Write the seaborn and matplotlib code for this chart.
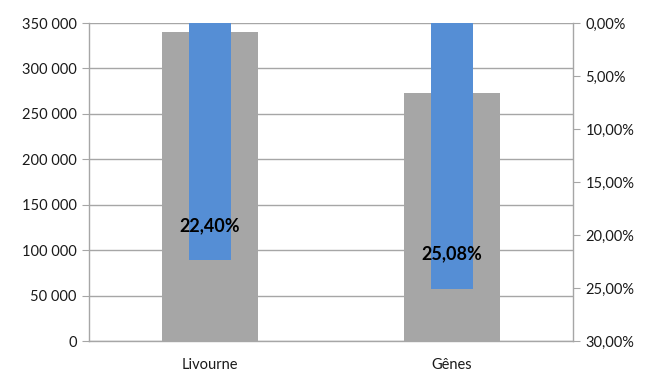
import pandas as pd
import seaborn as sns
from matplotlib import pyplot as plt
from matplotlib.ticker import FuncFormatter, FixedLocator

ports = ['Livourne', 'Gênes']
volumes = [340000, 273000]
shares = [0.2240, 0.2508]
share_labels = ['22,40%', '25,08%']

sns.set_style('white')
plt.rcParams['font.family'] = ['Lato', 'DejaVu Sans']

grid_col = '#a6a6a6'
txt_col = '#1a1a1a'

df = pd.DataFrame({'port': ports, 'volume': volumes, 'share': shares})

fig = plt.figure(figsize=(6.47, 3.74), dpi=100)
ax = fig.add_axes([0.1376, 0.0882, 0.7480, 0.8503])

sns.barplot(data=df, x='port', y='volume', color='#a6a6a6', saturation=1,
            width=0.4, linewidth=0, ax=ax, zorder=2)
ax.set_ylim(0, 350000)
ax.set_yticks(range(0, 350001, 50000))
ax.yaxis.set_major_formatter(FuncFormatter(lambda v, p: f'{int(v):,}'.replace(',', ' ')))
ax.grid(axis='y', color=grid_col, linewidth=1, zorder=0)
ax.set_axisbelow(True)
ax.set_xlim(-0.5, 1.5)
ax.xaxis.set_minor_locator(FixedLocator([-0.5, 0.5, 1.5]))
ax.tick_params(axis='x', which='major', length=0, pad=12, labelsize=10.5, colors=txt_col)
ax.tick_params(axis='x', which='minor', length=5, color=grid_col)
ax.tick_params(axis='y', length=5, color=grid_col, labelsize=10.5, labelcolor=txt_col, pad=4)
ax.set_xlabel('')
ax.set_ylabel('')

ax2 = ax.twinx()
sns.barplot(data=df, x='port', y='share', color='#558ed5', saturation=1,
            width=0.17, linewidth=0, ax=ax2, zorder=3)
ax2.set_ylim(0.30, 0)
ax2.set_yticks([i * 0.05 for i in range(7)])
ax2.yaxis.set_major_formatter(FuncFormatter(lambda v, p: f'{v * 100:.2f}%'.replace('.', ',')))
ax2.tick_params(axis='y', length=5, color=grid_col, labelsize=10.5, labelcolor=txt_col, pad=4)
ax2.set_xlim(-0.5, 1.5)
ax2.set_ylabel('')
ax2.set_xlabel('')

for bar, lab in zip(ax2.patches, share_labels):
    ax2.annotate(lab, (bar.get_x() + bar.get_width() / 2, bar.get_height()),
                 xytext=(0, 25), textcoords='offset points', ha='center', va='center',
                 fontsize=13, fontweight='bold', color='#000000')

for a in (ax, ax2):
    a.spines['top'].set_visible(False)
    for s in ('left', 'right', 'bottom'):
        a.spines[s].set_color(grid_col)
        a.spines[s].set_linewidth(1)
ax.spines['right'].set_visible(False)
ax2.spines['left'].set_visible(False)
ax2.spines['bottom'].set_visible(False)

fig.savefig('out.png', dpi=100, facecolor='white')
